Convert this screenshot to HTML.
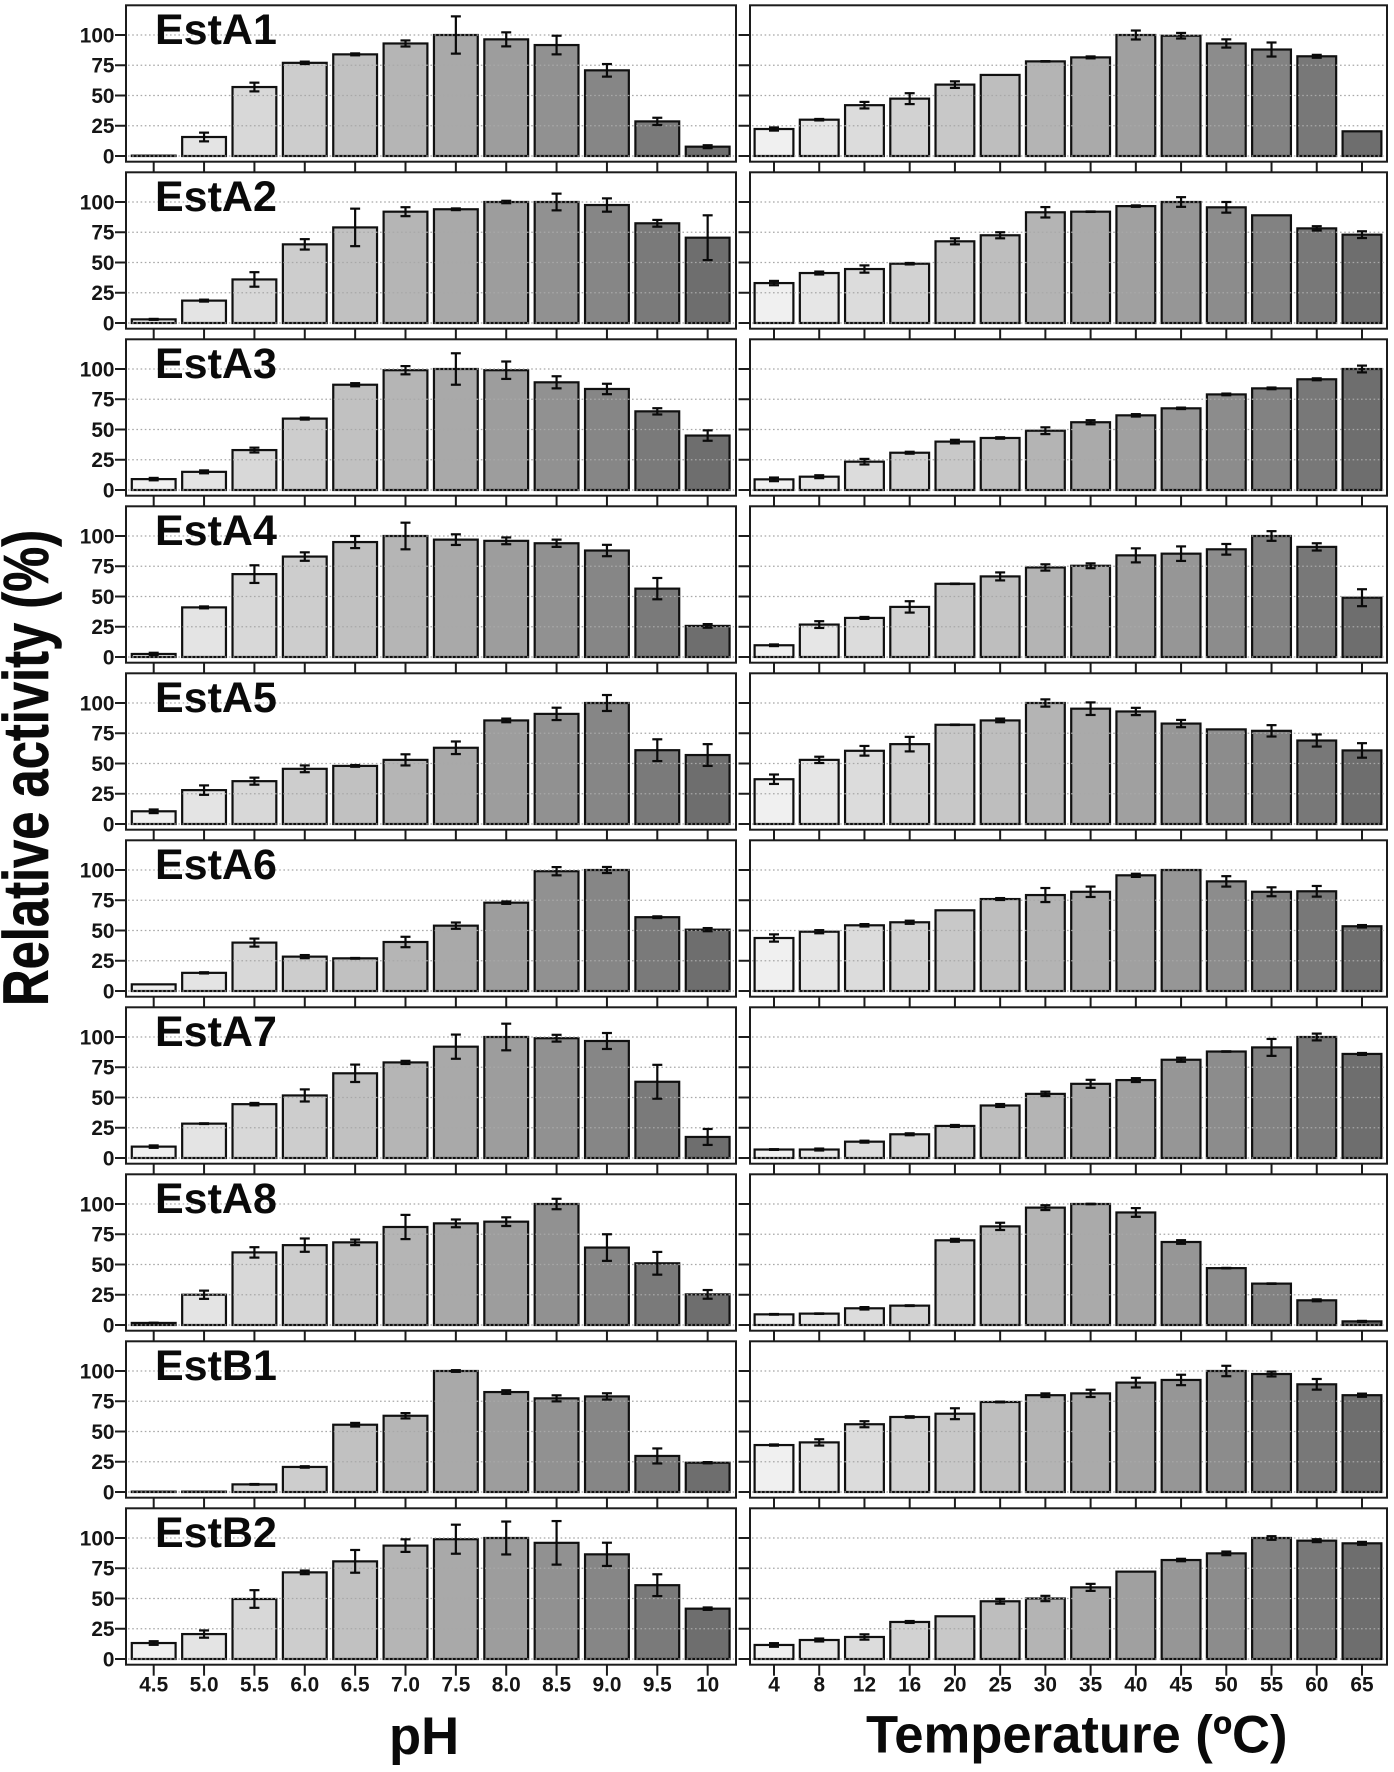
<!DOCTYPE html>
<html lang="en">
<head>
<meta charset="utf-8">
<title>Relative activity of esterases by pH and temperature</title>
<style>
html,body{margin:0;padding:0;background:#fff;}
svg{display:block;font-family:"Liberation Sans",Arial,sans-serif;}
.panel-title{font-size:43px;font-weight:700;fill:#0a0a0a;}
.axis-title{font-size:52.6px;font-weight:700;fill:#0a0a0a;}
.tick-label{font-size:20.8px;font-weight:700;fill:#151515;}
</style>
</head>
<body>
<svg id="chart" xmlns="http://www.w3.org/2000/svg" width="1394" height="1772" viewBox="0 0 1394 1772">
  <g id="plots"></g>
  <g>
    <text class="panel-title" x="155" y="44">EstA1</text>
    <text class="panel-title" x="155" y="211">EstA2</text>
    <text class="panel-title" x="155" y="378">EstA3</text>
    <text class="panel-title" x="155" y="545">EstA4</text>
    <text class="panel-title" x="155" y="712">EstA5</text>
    <text class="panel-title" x="155" y="879">EstA6</text>
    <text class="panel-title" x="155" y="1046">EstA7</text>
    <text class="panel-title" x="155" y="1213">EstA8</text>
    <text class="panel-title" x="155" y="1380">EstB1</text>
    <text class="panel-title" x="155" y="1547">EstB2</text>
  </g>
  <text class="axis-title" style="font-size:50.7px;stroke:#0a0a0a;stroke-width:0.5px" transform="translate(48,1006) rotate(-90) scale(1,1.26)">Relative activity (%)</text>
  <text class="axis-title" x="389" y="1754">pH</text>
  <text class="axis-title" x="866" y="1752.7">Temperature (ºC)</text>
</svg>
<script>
const phLabels = ["4.5","5.0","5.5","6.0","6.5","7.0","7.5","8.0","8.5","9.0","9.5","10"];
const tempLabels = ["4","8","12","16","20","25","30","35","40","45","50","55","60","65"];
const yTicks = [0,25,50,75,100];
const enzymes = ["esta1","esta2","esta3","esta4","esta5","esta6","esta7","esta8","estb1","estb2"];

const estA1Ph = [0.3,15.7,57,77,84,93,100,96.4,91.7,70.8,28.6,7.7];
const estA1PhErr = [0,3.6,3.6,1,0.8,2.5,15.4,5.8,7.7,5.2,3,1.2];
const estA2Ph = [3,18.5,36,65,79,92,94,100,100,97.5,82.4,70.5];
const estA2PhErr = [0.4,0.8,6,4.3,15.5,3.7,0.7,1,6.9,5.5,2.8,18.5];
const estA3Ph = [9,15,33,59,87,99,100,99,89,83.5,65,45];
const estA3PhErr = [1,1.2,2,0.8,1.3,3.4,13,7.2,5,4.3,2.6,4.3];
const estA4Ph = [2.5,41,68.5,83,95,100,97,96,94,88,56.5,25.7];
const estA4PhErr = [1,0.8,7.3,3.5,5,11,4.4,2.8,3,4.7,8.8,1.5];
const estA5Ph = [10.5,28,35.4,45.6,48,53,63,85.6,91,100,61,57];
const estA5PhErr = [1.5,3.9,2.9,2.8,0.7,4.6,5.2,1.5,5.1,6.6,9,9];
const estA6Ph = [5.5,15,40,28.4,27,40.5,54,73,99,100,61,50.7];
const estA6PhErr = [0,0.5,3.3,1.3,0.3,4.3,2.6,1,3.4,2.5,0.7,1.3];
const estA7Ph = [9.4,28.4,44.5,51.7,70,79,92,100,99,96.7,63,17.4];
const estA7PhErr = [1,0.3,1,5,7.2,1.3,10,11,2.8,6.6,14,6.6];
const estA8Ph = [1.7,25,60,66,68.3,81,84,85.4,100,64,51,25.3];
const estA8PhErr = [0.2,3.4,4.3,5.5,2.3,10,3.2,3.6,4.3,11,9.4,3.6];
const estB1Ph = [0.3,0.3,6.3,20.7,55.6,63,100,82.6,77.4,79,29.8,24.2];
const estB1PhErr = [0,0,0.3,0.6,1.5,2.2,0.7,1.5,2.5,2.6,6.2,0.5];
const estB2Ph = [13.2,20.6,49.6,71.6,80.7,93.7,99,100,96,86.5,61,41.6];
const estB2PhErr = [1.5,3,7.3,1.5,9.4,5.2,12,13.6,18,9.6,9,1];

const estA1Temp = [22.3,30,42,47.4,59,67,78.2,81.5,100,99.4,93,88,82.4,20.4];
const estA1TempErr = [1.3,0.6,2.7,4.5,2.7,0,0.2,0.8,3.7,2.3,3.4,5.8,1.2,0];
const estA2Temp = [33,41.3,44.6,49,67.5,72.5,91.5,92,96.6,100,95.6,89,78.2,73];
const estA2TempErr = [1.8,1.2,3,0.6,2.5,2.5,4.3,0.2,0.6,4,4.4,0,1.8,2.8];
const estA3Temp = [8.8,11,23.4,30.8,40,43,49,56,61.7,67.5,79,84,91.5,100];
const estA3TempErr = [1.5,1.2,2.3,0.8,1.5,0.6,2.8,1.7,1,0.6,0.7,0.7,0.8,2.8];
const estA4Temp = [9.7,26.8,32.3,41.4,60.5,66.6,74,75.4,84,85.4,89,100,91,49];
const estA4TempErr = [0.7,2.8,0.8,4.7,0.2,3.3,2.6,2,5.8,6,4.4,4,3,7];
const estA5Temp = [37,53,60.5,66,82,85.6,100,95.3,93,83,78.2,77,69,60.8];
const estA5TempErr = [3.9,2.6,4,6,0.2,1.5,3,5.2,3,3,0,4.7,5,6];
const estA6Temp = [43.8,49,54.3,56.8,66.7,76,79.3,82,95.6,100,90.6,82,82.4,53.5];
const estA6TempErr = [3,1.3,1,1.3,0,0.8,5.8,4.3,1.3,0,4.3,3.7,4.4,1];
const estA7Temp = [7,7,13.5,19.6,26.5,43.4,53,61.3,64.4,81.2,88,91.4,100,86];
const estA7TempErr = [0.3,0.8,0.8,0.8,0.8,1.2,1.8,3.3,1.6,1.7,0.2,7,2.8,0.8];
const estA8Temp = [8.8,9.4,13.8,16,70,81.5,97,100,93,68.6,47,34.2,20.4,3];
const estA8TempErr = [0.3,0.2,1,0.3,1.2,3,2,0.2,3.6,1.5,0.2,0.2,0.8,0.4];
const estB1Temp = [38.8,41,56,62,64.7,74.4,80,81.5,90.4,92.6,100,97.5,89,80];
const estB1TempErr = [0.5,2.6,2.5,0.6,4.5,0.3,1.5,3,4,4.3,4.3,2,4.4,1.3];
const estB2Temp = [11.6,15.7,18.2,30.6,35.3,47.7,50,59.2,72.2,81.8,87.3,100,97.8,95.6];
const estB2TempErr = [1.5,1.2,2.2,0.8,0,2,2.2,2.9,0,1,1.5,1.5,1.2,1.2];

const phSeries = [estA1Ph,estA2Ph,estA3Ph,estA4Ph,estA5Ph,estA6Ph,estA7Ph,estA8Ph,estB1Ph,estB2Ph];
const phErrors = [estA1PhErr,estA2PhErr,estA3PhErr,estA4PhErr,estA5PhErr,estA6PhErr,estA7PhErr,estA8PhErr,estB1PhErr,estB2PhErr];
const tempSeries = [estA1Temp,estA2Temp,estA3Temp,estA4Temp,estA5Temp,estA6Temp,estA7Temp,estA8Temp,estB1Temp,estB2Temp];
const tempErrors = [estA1TempErr,estA2TempErr,estA3TempErr,estA4TempErr,estA5TempErr,estA6TempErr,estA7TempErr,estA8TempErr,estB1TempErr,estB2TempErr];

const NS = "http://www.w3.org/2000/svg";
const root = document.getElementById("plots");
const ROW_STEP = 167, FRAME_TOP = 5.3, FRAME_H = 156.4, ZERO_Y = 156, PX_PER_UNIT = 1.21;
const STROKE = "#101010";

function yScale(row, v) { return ZERO_Y + row * ROW_STEP - v * PX_PER_UNIT; }
function xScalePh(i) { return 153.7 + i * 50.36; }
function xScaleTemp(i) { return 774 + i * 45.23; }

function mk(tag, parent, attrs) {
  const el = document.createElementNS(NS, tag);
  for (const k in attrs) el.setAttribute(k, attrs[k]);
  parent.appendChild(el);
  return el;
}

function drawPanel(row, kind, labels, values, errors, xScale, left, right, barW) {
  const enzyme = enzymes[row];
  const g = mk("g", root, {});
  
  

  const top = FRAME_TOP + row * ROW_STEP;
  const bottom = top + FRAME_H;

  const bg = mk("rect", g, {x:left, y:top, width:right-left, height:FRAME_H, fill:"#fff"});
  
  

  const n = values.length;
  values.forEach(function (v, i) {
    const level = Math.round(240 - (i / (n - 1)) * 130);
    const cx = xScale(i);
    const y0 = yScale(row, 0), y1 = yScale(row, v);
    const bar = mk("rect", g, {
      x: cx - barW / 2, y: y1, width: barW, height: Math.max(y0 - y1, 0.2),
      fill: "rgb(" + level + "," + level + "," + level + ")",
      stroke: STROKE, "stroke-width": 2.2
    });
    
    
  });

  yTicks.forEach(function (t) {
    const y = yScale(row, t);
    const grid = mk("line", g, {
      x1: left + 2, x2: right - 2, y1: y, y2: y,
      stroke: "#a8a8a8", "stroke-width": 1.3, "stroke-dasharray": "1.6 2.6"
    });
    
    
  });

  values.forEach(function (v, i) {
    const e = errors[i];
    if (!e) return;
    const cx = xScale(i);
    const yHi = yScale(row, v + e), yLo = yScale(row, v - e);
    const eg = mk("g", g, {stroke: "#0a0a0a", "stroke-width": 2.2, fill: "none"});
    
    
    mk("line", eg, {x1: cx, x2: cx, y1: yHi, y2: yLo});
    mk("line", eg, {x1: cx - 5, x2: cx + 5, y1: yHi, y2: yHi});
    mk("line", eg, {x1: cx - 5, x2: cx + 5, y1: yLo, y2: yLo});
  });

  const frame = mk("rect", g, {x:left, y:top, width:right-left, height:FRAME_H, fill:"none", stroke:"#1c1c1c", "stroke-width":2});
  
  

  labels.forEach(function (lab, i) {
    const cx = xScale(i);
    const tick = mk("line", g, {x1: cx, x2: cx, y1: bottom, y2: bottom + 11, stroke: "#1c1c1c", "stroke-width": 2});
    
    
    if (row === enzymes.length - 1) {
      const txt = mk("text", g, {x: cx, y: 1691.7, "text-anchor": "middle", "class": "tick-label"});
      txt.textContent = lab;
      
      
    }
  });

  yTicks.forEach(function (t) {
    const y = yScale(row, t);
    const isLeft = kind === "ph";
    const tick = mk("line", g, {
      x1: isLeft ? 115 : 738.5, x2: left, y1: y, y2: y, stroke: "#1c1c1c", "stroke-width": 2
    });
    
    
    if (isLeft) {
      const txt = mk("text", g, {x: 114.5, y: y + 7.3, "text-anchor": "end", "class": "tick-label"});
      txt.textContent = String(t);
      
      
    }
  });
}

enzymes.forEach(function (_, row) {
  drawPanel(row, "ph", phLabels, phSeries[row], phErrors[row], xScalePh, 126, 736, 43.8);
  drawPanel(row, "temp", tempLabels, tempSeries[row], tempErrors[row], xScaleTemp, 750, 1387, 38.8);
});
</script>
</body>
</html>
